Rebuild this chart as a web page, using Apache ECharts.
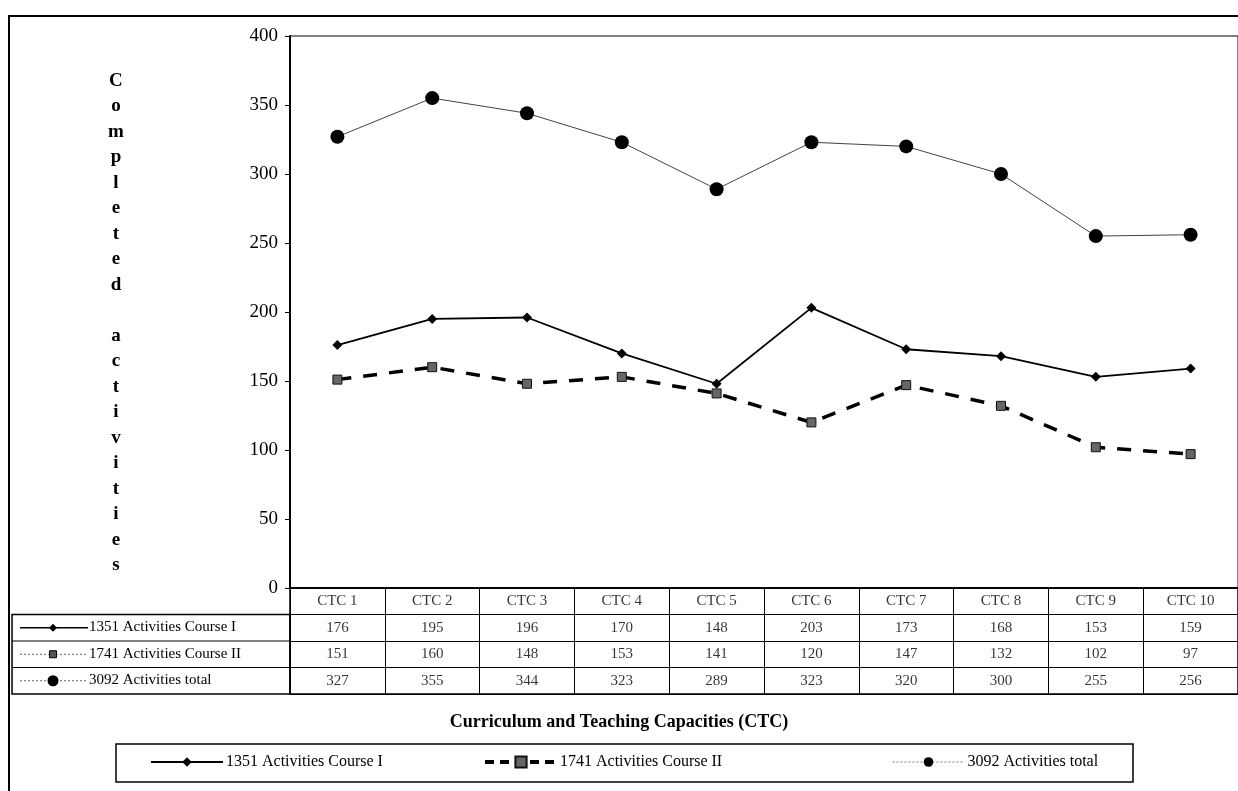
<!DOCTYPE html>
<html>
<head>
<meta charset="utf-8">
<script src="https://cdn.jsdelivr.net/npm/echarts@6/dist/echarts.min.js"></script>
<style>
html,body{margin:0;padding:0;background:#fff;}
#chart{width:1238px;height:791px;}
</style>
</head>
<body>
<div id="chart"></div>
<script>
const categories = ['CTC 1','CTC 2','CTC 3','CTC 4','CTC 5','CTC 6','CTC 7','CTC 8','CTC 9','CTC 10'];
const courseI  = [176,195,196,170,148,203,173,168,153,159];
const courseII = [151,160,148,153,141,120,147,132,102,97];
const total    = [327,355,344,323,289,323,320,300,255,256];
const seriesNames = ['1351 Activities Course I','1741 Activities Course II','3092 Activities total'];
const yAxisTitle = 'Completed activities';
const xAxisTitle = 'Curriculum and Teaching Capacities (CTC)';
const yMin = 0, yMax = 400, yStep = 50;

const FONT = '"Liberation Serif", "DejaVu Serif", serif';
const chart = echarts.init(document.getElementById('chart'));

// table cells (text) built from the arrays
const rows = [categories, courseI, courseII, total];
const tableData = [];
rows.forEach((r, ri) => r.forEach((v, ci) => tableData.push({ name: String(v), value: [ci, ri] })));

// layout constants
const TBL_TOP = 588, TBL_H = 106, ROW_H = TBL_H / 4;
const LBL_X = 12, PLOT_X = 290;
const rowCenter = i => TBL_TOP + ROW_H * (i + 0.5);

const graphics = [
  { type: 'rect', shape: { x: 9, y: 16, width: 1300, height: 900 }, style: { fill: 'none', stroke: '#000', lineWidth: 2 }, silent: true },
  { type: 'rect', shape: { x: LBL_X, y: TBL_TOP + ROW_H, width: PLOT_X - LBL_X, height: ROW_H * 3 }, style: { fill: 'none', stroke: '#000', lineWidth: 1.5 }, silent: true },
  { type: 'line', shape: { x1: LBL_X, y1: TBL_TOP + ROW_H * 2, x2: PLOT_X, y2: TBL_TOP + ROW_H * 2 }, style: { stroke: '#000', lineWidth: 1 } },
  { type: 'line', shape: { x1: LBL_X, y1: TBL_TOP + ROW_H * 3, x2: PLOT_X, y2: TBL_TOP + ROW_H * 3 }, style: { stroke: '#000', lineWidth: 1 } },
  { type: 'text', left: 108, top: 68, style: { text: yAxisTitle.split('').join('\n'), font: 'bold 19px ' + FONT, fill: '#000', lineHeight: 25.5, textAlign: 'center' } },
  { type: 'text', left: 'center', top: 713, style: { text: xAxisTitle, font: 'bold 18px ' + FONT, fill: '#000' } },
  { type: 'rect', shape: { x: 116, y: 744, width: 1017, height: 38 }, style: { fill: 'none', stroke: '#000', lineWidth: 1.5 }, silent: true }
];
// row labels with mini icons
const iconStyles = [
  { stroke: '#000', lineWidth: 1.5, dash: null },
  { stroke: '#666', lineWidth: 1, dash: [2, 2] },
  { stroke: '#666', lineWidth: 1, dash: [2, 2] }
];
seriesNames.forEach((n, i) => {
  const cy = rowCenter(i + 1);
  graphics.push({ type: 'line', shape: { x1: 20, y1: cy, x2: 88, y2: cy }, style: { stroke: iconStyles[i].stroke, lineWidth: iconStyles[i].lineWidth, lineDash: iconStyles[i].dash } });
  graphics.push({ type: 'text', left: 89, top: cy - 8, style: { text: n, font: '15px ' + FONT, fill: '#000' } });
});
graphics.push({ type: 'polygon', shape: { points: [[53, rowCenter(1) - 4], [57, rowCenter(1)], [53, rowCenter(1) + 4], [49, rowCenter(1)]] }, style: { fill: '#000' } });
graphics.push({ type: 'rect', shape: { x: 49.5, y: rowCenter(2) - 3.5, width: 7, height: 7 }, style: { fill: '#555', stroke: '#000', lineWidth: 1 } });
graphics.push({ type: 'circle', shape: { cx: 53, cy: rowCenter(3), r: 5.5 }, style: { fill: '#000' } });

const legendBase = {
  top: 754, itemWidth: 72, itemHeight: 12, itemGap: 0,
  textStyle: { fontFamily: FONT, fontSize: 16, color: '#000', padding: [0, 0, 0, -2] },
  padding: 0
};

const option = {
  animation: false,
  backgroundColor: '#fff',
  grid: [
    { left: PLOT_X, top: 36, right: 0, height: TBL_TOP - 36, show: true, borderColor: '#000', borderWidth: 1, containLabel: false },
    { left: PLOT_X, top: TBL_TOP, right: 0, height: TBL_H, show: true, borderColor: '#000', borderWidth: 1.5, containLabel: false }
  ],
  xAxis: [
    { type: 'category', gridIndex: 0, data: categories, boundaryGap: true,
      axisLine: { show: true, lineStyle: { color: '#000', width: 1.5 } }, axisTick: { show: false }, axisLabel: { show: false }, splitLine: { show: false } },
    { type: 'category', gridIndex: 1, data: categories, boundaryGap: true,
      axisLine: { show: false }, axisTick: { show: false }, axisLabel: { show: false },
      splitLine: { show: true, interval: 0, lineStyle: { color: '#000', width: 1 } } }
  ],
  yAxis: [
    { type: 'value', gridIndex: 0, min: yMin, max: yMax, interval: yStep,
      axisLine: { show: true, lineStyle: { color: '#000', width: 2 } },
      axisTick: { show: true, length: 5, lineStyle: { color: '#000' } },
      axisLabel: { color: '#000', fontFamily: FONT, fontSize: 19, margin: 12 },
      splitLine: { show: false } },
    { type: 'category', gridIndex: 1, data: ['h', 'r1', 'r2', 'r3'], inverse: true, boundaryGap: true,
      axisLine: { show: false }, axisTick: { show: false }, axisLabel: { show: false },
      splitLine: { show: true, interval: 0, lineStyle: { color: '#000', width: 1 } } }
  ],
  legend: [
    Object.assign({}, legendBase, { left: 150, data: [seriesNames[0]] }),
    Object.assign({}, legendBase, { left: 483, itemHeight: 14, data: [seriesNames[1]], lineStyle: { type: [9, 6], color: '#000', width: 4 } }),
    Object.assign({}, legendBase, { left: 892, data: [seriesNames[2]], lineStyle: { type: [2, 2], color: '#777', width: 1 } })
  ],
  graphic: graphics,
  series: [
    { name: seriesNames[2], type: 'line', data: total, xAxisIndex: 0, yAxisIndex: 0,
      symbol: 'circle', symbolSize: 14, itemStyle: { color: '#000' },
      lineStyle: { color: '#444', width: 1 } , z: 3},
    { name: seriesNames[0], type: 'line', data: courseI, xAxisIndex: 0, yAxisIndex: 0,
      symbol: 'diamond', symbolSize: 10, itemStyle: { color: '#000' },
      lineStyle: { color: '#000', width: 1.8 }, z: 4 },
    { name: seriesNames[1], type: 'line', data: courseII, xAxisIndex: 0, yAxisIndex: 0,
      symbol: 'rect', symbolSize: 9, itemStyle: { color: '#666', borderColor: '#111', borderWidth: 1 },
      lineStyle: { color: '#000', width: 3.5, type: [14, 12] }, z: 5 },
    { name: 'table', type: 'scatter', xAxisIndex: 1, yAxisIndex: 1, data: tableData,
      symbolSize: 1, itemStyle: { color: 'rgba(0,0,0,0)' }, silent: true,
      label: { show: true, position: 'inside', formatter: '{b}', color: '#000', fontFamily: FONT, fontSize: 15 } }
  ]
};
chart.setOption(option);
</script>
</body>
</html>
